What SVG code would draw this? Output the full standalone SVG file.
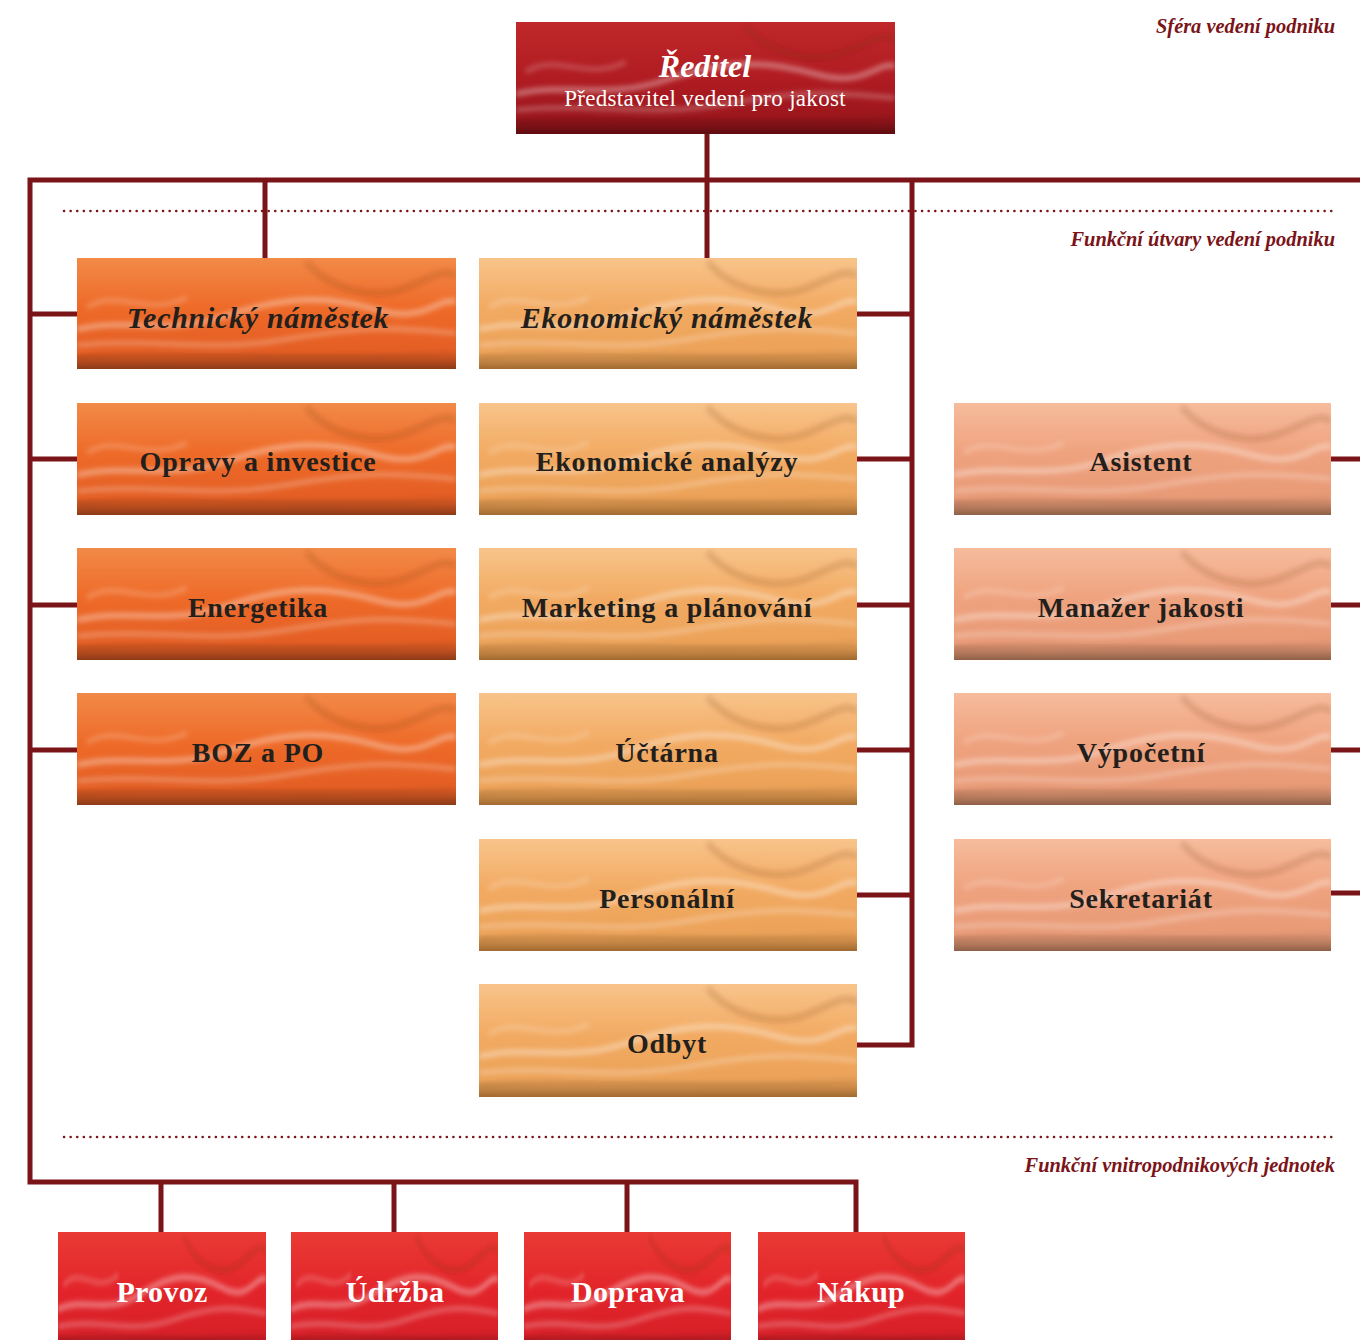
<svg xmlns="http://www.w3.org/2000/svg" width="1360" height="1340" viewBox="0 0 1360 1340">
<defs>
<style>
.ln{fill:none;stroke:#7b1418;stroke-width:5}
.dot{fill:none;stroke:#7b1418;stroke-width:2.5;stroke-dasharray:0.1 6.5;stroke-linecap:round}
.lbl{font-family:"Liberation Serif",serif;font-style:italic;font-weight:bold;font-size:20.4px;fill:#7b1418;text-anchor:end}
.t{font-family:"Liberation Serif",serif;font-weight:bold;font-size:28px;letter-spacing:0.8px;fill:#231f1c;text-anchor:middle}
.ti{font-style:italic;font-size:30px;letter-spacing:0.7px}
.tw{font-family:"Liberation Serif",serif;font-weight:bold;font-size:30px;letter-spacing:0.3px;fill:#fff;text-anchor:middle}
</style>
<linearGradient id="gTop" x1="0" y1="0" x2="0" y2="1">
<stop offset="0" stop-color="#c0282a"/><stop offset="0.5" stop-color="#b01c22"/><stop offset="0.85" stop-color="#9c161c"/><stop offset="1" stop-color="#5e0c10"/>
</linearGradient>
<linearGradient id="gC1" x1="0" y1="0" x2="0" y2="1">
<stop offset="0" stop-color="#f28a48"/><stop offset="0.45" stop-color="#ee6a28"/><stop offset="0.85" stop-color="#e45e24"/><stop offset="1" stop-color="#8c3a18"/>
</linearGradient>
<linearGradient id="gC2" x1="0" y1="0" x2="0" y2="1">
<stop offset="0" stop-color="#f8c48a"/><stop offset="0.45" stop-color="#f2aa62"/><stop offset="0.85" stop-color="#eca258"/><stop offset="1" stop-color="#a06a30"/>
</linearGradient>
<linearGradient id="gC3" x1="0" y1="0" x2="0" y2="1">
<stop offset="0" stop-color="#f6bc9c"/><stop offset="0.45" stop-color="#efa27e"/><stop offset="0.85" stop-color="#e89a76"/><stop offset="1" stop-color="#8e6048"/>
</linearGradient>
<linearGradient id="gBot" x1="0" y1="0" x2="0" y2="1">
<stop offset="0" stop-color="#ea3a34"/><stop offset="0.5" stop-color="#e2242a"/><stop offset="0.85" stop-color="#d82028"/><stop offset="1" stop-color="#7a1014"/>
</linearGradient>
<filter id="blur" x="-5%" y="-20%" width="110%" height="140%"><feGaussianBlur stdDeviation="2.5"/></filter>
<symbol id="wave" viewBox="0 0 380 112" preserveAspectRatio="none">
<g filter="url(#blur)" fill="none">
<path d="M0,72 C50,60 90,78 150,58 S250,38 300,52 S360,40 380,44" stroke="#fff" stroke-opacity="0.35" stroke-width="6"/>
<path d="M0,88 C80,80 130,96 210,82 S320,70 380,76" stroke="#fff" stroke-opacity="0.25" stroke-width="5"/>
<path d="M230,4 C255,34 300,42 330,30 S368,10 380,18" stroke="#6a2a10" stroke-opacity="0.18" stroke-width="6"/>
<path d="M10,50 C40,30 70,60 110,40" stroke="#fff" stroke-opacity="0.2" stroke-width="5"/>
<path d="M0,100 C100,92 200,104 380,96" stroke="#000" stroke-opacity="0.08" stroke-width="5"/>
</g>
</symbol>
</defs>
<rect width="1360" height="1340" fill="#fff"/>

<g id="connectors">
<path class="ln" d="M707,134 V258"/>
<path class="ln" d="M1360,180 H30 V1182 H856 V1232"/>
<path class="ln" d="M265,180 V258"/>
<path class="ln" d="M161,1182 V1232"/>
<path class="ln" d="M394,1182 V1232"/>
<path class="ln" d="M627,1182 V1232"/>
<path class="ln" d="M912,180 V1045 H857"/>
<path class="ln" d="M30,314 H77 M30,459 H77 M30,605 H77 M30,750 H77"/>
<path class="ln" d="M857,314 H912 M857,459 H912 M857,605 H912 M857,750 H912 M857,895 H912"/>
<path class="ln" d="M1331,459 H1360 M1331,605 H1360 M1331,750 H1360 M1331,893 H1360"/>
</g>

<g id="dividers">
<path class="dot" d="M64,211 H1336"/>
<path class="dot" d="M64,1137 H1336"/>
<text class="lbl" x="1335" y="33">Sféra vedení podniku</text>
<text class="lbl" x="1335" y="246">Funkční útvary vedení podniku</text>
<text class="lbl" x="1335" y="1172">Funkční vnitropodnikových jednotek</text>
</g>

<g id="reditel">
<rect x="516" y="22" width="379" height="112" fill="url(#gTop)"/>
<use href="#wave" x="516" y="22" width="379" height="112"/>
<text x="705" y="77" font-family="'Liberation Serif',serif" font-style="italic" font-weight="bold" font-size="32" fill="#fff" text-anchor="middle">Ředitel</text>
<text x="705" y="106" font-family="'Liberation Serif',serif" font-size="23" letter-spacing="0.3" fill="#fff" text-anchor="middle">Představitel vedení pro jakost</text>
</g>

<g id="technicky">
<rect x="77" y="258" width="379" height="111" fill="url(#gC1)"/>
<use href="#wave" x="77" y="258" width="379" height="111"/>
<text class="t ti" x="258" y="328">Technický náměstek</text>
</g>
<g id="opravy">
<rect x="77" y="403" width="379" height="112" fill="url(#gC1)"/>
<use href="#wave" x="77" y="403" width="379" height="112"/>
<text class="t" x="258" y="471">Opravy a investice</text>
</g>
<g id="energetika">
<rect x="77" y="548" width="379" height="112" fill="url(#gC1)"/>
<use href="#wave" x="77" y="548" width="379" height="112"/>
<text class="t" x="258" y="617">Energetika</text>
</g>
<g id="boz">
<rect x="77" y="693" width="379" height="112" fill="url(#gC1)"/>
<use href="#wave" x="77" y="693" width="379" height="112"/>
<text class="t" x="258" y="762">BOZ a PO</text>
</g>

<g id="ekonomicky">
<rect x="479" y="258" width="378" height="111" fill="url(#gC2)"/>
<use href="#wave" x="479" y="258" width="378" height="111"/>
<text class="t ti" x="667" y="328">Ekonomický náměstek</text>
</g>
<g id="analyzy">
<rect x="479" y="403" width="378" height="112" fill="url(#gC2)"/>
<use href="#wave" x="479" y="403" width="378" height="112"/>
<text class="t" x="667" y="471">Ekonomické analýzy</text>
</g>
<g id="marketing">
<rect x="479" y="548" width="378" height="112" fill="url(#gC2)"/>
<use href="#wave" x="479" y="548" width="378" height="112"/>
<text class="t" x="667" y="617">Marketing a plánování</text>
</g>
<g id="uctarna">
<rect x="479" y="693" width="378" height="112" fill="url(#gC2)"/>
<use href="#wave" x="479" y="693" width="378" height="112"/>
<text class="t" x="667" y="762">Účtárna</text>
</g>
<g id="personalni">
<rect x="479" y="839" width="378" height="112" fill="url(#gC2)"/>
<use href="#wave" x="479" y="839" width="378" height="112"/>
<text class="t" x="667" y="908">Personální</text>
</g>
<g id="odbyt">
<rect x="479" y="984" width="378" height="113" fill="url(#gC2)"/>
<use href="#wave" x="479" y="984" width="378" height="113"/>
<text class="t" x="667" y="1053">Odbyt</text>
</g>

<g id="asistent">
<rect x="954" y="403" width="377" height="112" fill="url(#gC3)"/>
<use href="#wave" x="954" y="403" width="377" height="112"/>
<text class="t" x="1141" y="471">Asistent</text>
</g>
<g id="manazer">
<rect x="954" y="548" width="377" height="112" fill="url(#gC3)"/>
<use href="#wave" x="954" y="548" width="377" height="112"/>
<text class="t" x="1141" y="617">Manažer jakosti</text>
</g>
<g id="vypocetni">
<rect x="954" y="693" width="377" height="112" fill="url(#gC3)"/>
<use href="#wave" x="954" y="693" width="377" height="112"/>
<text class="t" x="1141" y="762">Výpočetní</text>
</g>
<g id="sekretariat">
<rect x="954" y="839" width="377" height="112" fill="url(#gC3)"/>
<use href="#wave" x="954" y="839" width="377" height="112"/>
<text class="t" x="1141" y="908">Sekretariát</text>
</g>

<g id="provoz">
<rect x="58" y="1232" width="208" height="120" fill="url(#gBot)"/>
<use href="#wave" x="58" y="1232" width="208" height="120"/>
<text class="tw" x="162" y="1302">Provoz</text>
</g>
<g id="udrzba">
<rect x="291" y="1232" width="207" height="120" fill="url(#gBot)"/>
<use href="#wave" x="291" y="1232" width="207" height="120"/>
<text class="tw" x="395" y="1302">Údržba</text>
</g>
<g id="doprava">
<rect x="524" y="1232" width="207" height="120" fill="url(#gBot)"/>
<use href="#wave" x="524" y="1232" width="207" height="120"/>
<text class="tw" x="628" y="1302">Doprava</text>
</g>
<g id="nakup">
<rect x="758" y="1232" width="207" height="120" fill="url(#gBot)"/>
<use href="#wave" x="758" y="1232" width="207" height="120"/>
<text class="tw" x="861" y="1302">Nákup</text>
</g>
</svg>
